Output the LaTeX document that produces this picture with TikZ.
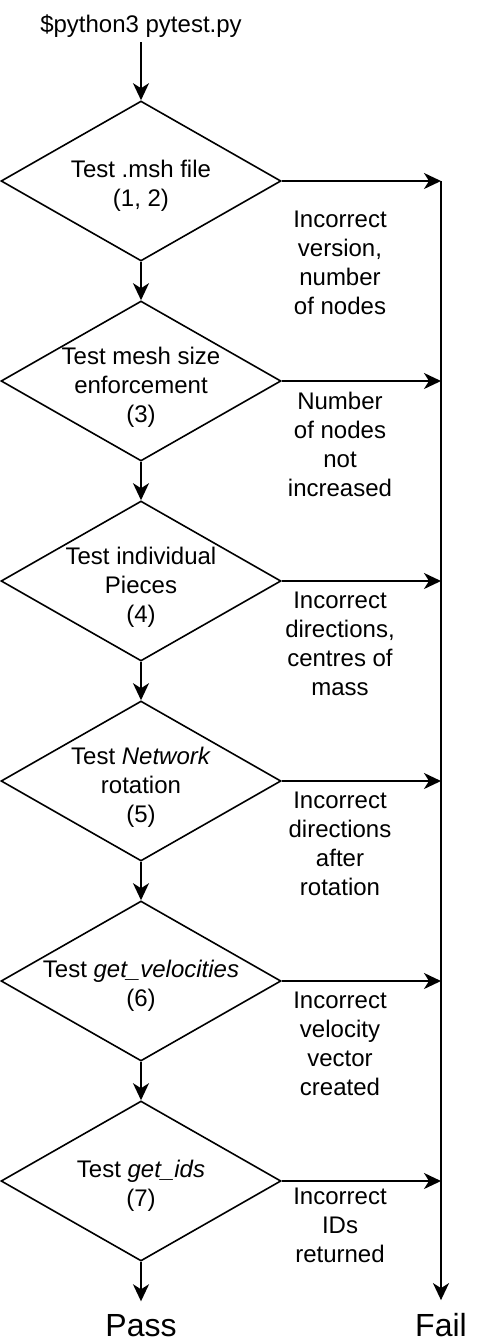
\documentclass[tikz,border=0pt]{standalone}
\usepackage{fontspec}
\setmainfont{Liberation Sans}
\usetikzlibrary{shapes.geometric,arrows.meta}
\begin{document}
\begin{tikzpicture}[x=1pt,y=-1pt,
  dia/.style={diamond,draw,line width=1.6pt,minimum width=280pt,minimum height=160pt,inner sep=0pt},
  txt/.style={align=center,font=\fontsize{24}{29}\selectfont,inner sep=0pt},
  big/.style={font=\fontsize{32}{38}\selectfont,inner sep=12.5pt,anchor=base},
  arr/.style={line width=2pt,-{Stealth[length=17pt,width=16pt,inset=5pt]}},
  ln/.style={line width=2pt}]
\useasboundingbox[fill=white] (0,0) rectangle (482,1342);
\node[txt,anchor=base,inner sep=5pt] (title) at (141,32) {\$python3 pytest.py};
\node[dia] (d1) at (141,181) {};
\node[dia] (d2) at (141,381) {};
\node[dia] (d3) at (141,581) {};
\node[dia] (d4) at (141,781) {};
\node[dia] (d5) at (141,981) {};
\node[dia] (d6) at (141,1181) {};
\node[txt] (t1) at (141,186) {Test .msh file\\(1, 2)};
\node[txt] (t2) at (141,387) {Test mesh size\\enforcement\\(3)};
\node[txt] (t3) at (141,587) {Test individual\\Pieces\\(4)};
\node[txt] (t4) at (141,787) {Test \textit{Network}\\rotation\\(5)};
\node[txt] (t5) at (141,986) {Test \textit{get\_velocities}\\(6)};
\node[txt] (t6) at (141,1186) {Test \textit{get\_ids}\\(7)};
\node[txt] (l1) at (340,263) {Incorrect\\version,\\number\\of nodes};
\node[txt] (l2) at (340,444) {Number\\of nodes\\not\\increased};
\node[txt] (l3) at (340,644) {Incorrect\\directions,\\centres of\\mass};
\node[txt] (l4) at (340,844) {Incorrect\\directions\\after\\rotation};
\node[txt] (l5) at (340,1044) {Incorrect\\velocity\\vector\\created};
\node[txt] (l6) at (340,1225) {Incorrect\\IDs\\returned};
\node[big] (pass) at (141,1336) {Pass};
\node[big] (fail) at (441,1336) {Fail};
\coordinate (fx) at (441,181);
\draw[arr] (title.south) -- (d1.north);
\draw[arr] (d1.south) -- (d2.north);
\draw[arr] (d2.south) -- (d3.north);
\draw[arr] (d3.south) -- (d4.north);
\draw[arr] (d4.south) -- (d5.north);
\draw[arr] (d5.south) -- (d6.north);
\draw[arr] (d6.south) -- (pass.north);
\foreach \d in {d1,d2,d3,d4,d5,d6}
  \draw[arr] (\d.east) -- (\d.east -| fx);
\draw[arr] (fx) -- (fail.north);
\end{tikzpicture}
\end{document}
